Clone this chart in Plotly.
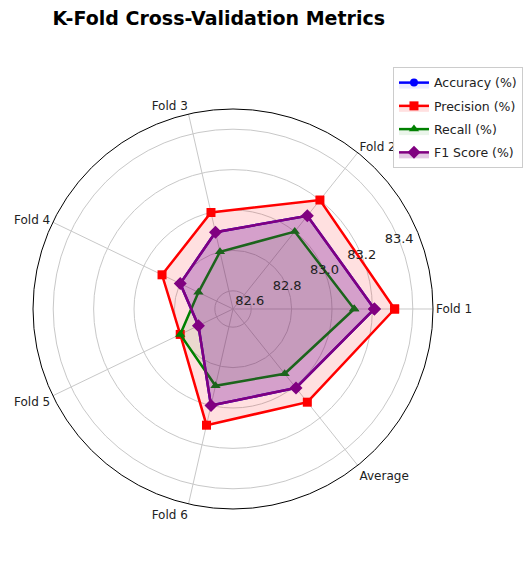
import plotly.graph_objects as go

categories = ["Fold 1", "Fold 2", "Fold 3", "Fold 4", "Fold 5", "Fold 6", "Average"]
accuracy = [83.21, 83.10, 82.90, 82.80, 82.70, 83.00, 83.01]
precision = [83.31, 83.20, 83.00, 82.90, 82.80, 83.10, 83.10]
recall = [83.11, 83.00, 82.80, 82.70, 82.80, 82.90, 82.92]
f1_score = [83.21, 83.10, 82.90, 82.80, 82.70, 83.00, 83.01]
radial_ticks = [82.6, 82.8, 83.0, 83.2, 83.4]
radial_tick_labels = ["82.6", "82.8", "83.0", "83.2", "83.4"]

n = len(categories)
angles = [i * 360.0 / n for i in range(n)]
theta_closed = angles + [angles[0]]

series = [
    ("Accuracy (%)", accuracy, "blue", "circle", 8, "rgba(0,0,255,0.08)"),
    ("Precision (%)", precision, "red", "square", 9, "rgba(255,0,0,0.12)"),
    ("Recall (%)", recall, "green", "triangle-up", 9, "rgba(0,128,0,0.08)"),
    ("F1 Score (%)", f1_score, "purple", "diamond", 10, "rgba(128,0,128,0.22)"),
]

fig = go.Figure()
for i, (name, vals, color, sym, msize, fillc) in enumerate(series):
    fig.add_trace(go.Scatterpolar(
        r=vals + [vals[0]], theta=theta_closed, name=name,
        mode="lines+markers", fill="toself", fillcolor=fillc,
        line=dict(color=color, width=2.5),
        marker=dict(symbol=sym, size=msize, color=color),
        legendgroup="g%d" % i,
    ))

fig.add_trace(go.Scatterpolar(
    r=radial_ticks, theta=[22.5] * len(radial_ticks), mode="text",
    text=radial_tick_labels, textfont=dict(size=13, color="#222", family="DejaVu Sans"),
    showlegend=False, hoverinfo="skip",
))

fig.update_layout(
    width=531, height=584,
    margin=dict(l=0, r=0, t=0, b=0),
    paper_bgcolor="white",
    font=dict(family="DejaVu Sans", size=13, color="#222"),
    title=dict(text="<b>K-Fold Cross-Validation Metrics</b>", x=0.397, xanchor="center",
               y=0.983, yanchor="middle", font=dict(size=19, color="black")),
    polar=dict(
        domain=dict(x=[0.0471, 0.8004], y=[0.1421, 0.8271]),
        bgcolor="white",
        angularaxis=dict(
            direction="counterclockwise", rotation=0,
            tickmode="array", tickvals=angles, ticktext=categories,
            showline=True, linecolor="black", linewidth=1,
            gridcolor="#c8c8c8", gridwidth=1, ticks="",
            tickfont=dict(size=12, color="#222"),
        ),
        radialaxis=dict(
            range=[82.51, 83.5], tickvals=radial_ticks, showticklabels=False,
            showline=False, ticks="", gridcolor="#c8c8c8", gridwidth=1,
        ),
    ),
    legend=dict(
        x=0.725, y=0.899, xanchor="left", yanchor="top",
        bordercolor="#cccccc", borderwidth=1, bgcolor="rgba(255,255,255,0.9)",
        font=dict(size=12.5, color="#222"), tracegroupgap=4,
    ),
)

fig.write_html("out.html")
